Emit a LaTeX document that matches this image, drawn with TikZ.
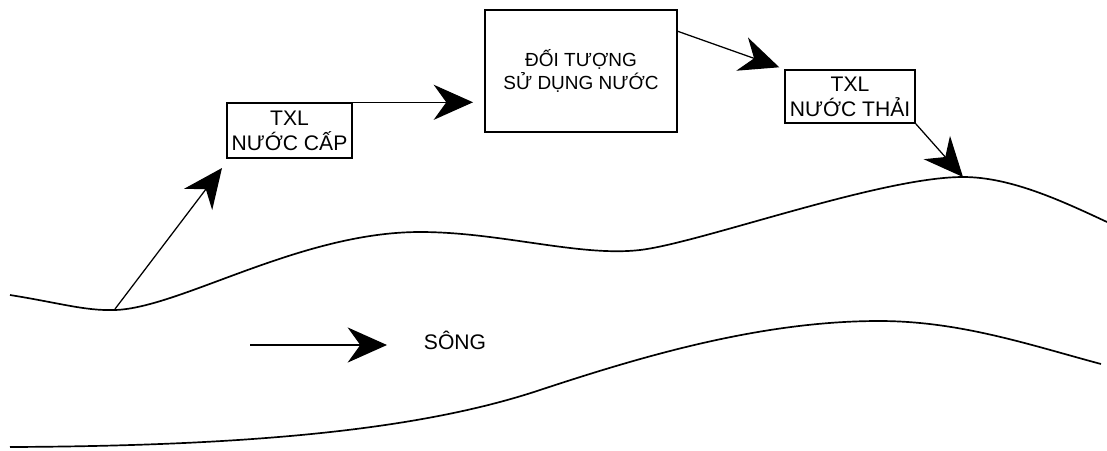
\documentclass[tikz,border=0pt]{standalone}
\usepackage{fontspec}
\setmainfont{Liberation Sans}
\usetikzlibrary{arrows.meta,calc}

\tikzset{
  box/.style={draw, line width=1pt, align=center, inner sep=0pt, font=\fontsize{15}{18}\selectfont},
  flow/.style={line width=0.9pt, -{Stealth[length=28pt,width=25pt,inset=9pt]}},
  bank/.style={line width=1.2pt}
}

\begin{document}
\begin{tikzpicture}[x=0.025cm, y=-0.025cm]
    \useasboundingbox (0,0) rectangle (1107,450);

    % Draw the two banks of the river
    \draw[bank] (10,295) .. controls (60,303) and (85,311) .. (115,310)
        .. controls (180,308) and (300,232) .. (420,232)
        .. controls (500,232) and (580,257) .. (640,250)
        .. controls (700,243) and (880,177) .. (963,177)
        .. controls (1010,177) and (1060,200) .. (1107,222);
    \draw[bank] (10,447) .. controls (250,446) and (420,430) .. (540,390)
        .. controls (640,357) and (760,321) .. (879,321)
        .. controls (960,321) and (1030,345) .. (1101,364);

    % Boxes
    \node[box, minimum width=3.125cm, minimum height=1.375cm] (cap) at (289.5,130.5) {TXL\\NƯỚC CẤP};
    \node[box, minimum width=4.8cm, minimum height=3.05cm, font=\fontsize{13.5}{16}\selectfont] (use) at (581,71) {ĐỐI TƯỢNG\\SỬ DỤNG NƯỚC};
    \node[box, minimum width=3.25cm, minimum height=1.325cm] (thai) at (850,96.5) {TXL\\NƯỚC THẢI};

    % Points on the river
    \coordinate (intake) at (115,309);
    \coordinate (capin) at (222,168);
    \coordinate (drop) at (963,177);
    \coordinate (flowA) at (250,345);
    \coordinate (flowB) at (387,345);

    % Flow of water
    \draw[flow] (intake) -- (capin);
    \draw[flow, shorten >=8] (cap.north east) -- (cap.north east -| use.west);
    \draw[flow] ($(use.north east)+(0,22)$) -- ($(thai.north west)+(-5,-2)$);
    \draw[flow] (thai.south east) -- (drop);

    % The river
    \draw[flow] (flowA) -- (flowB);
    \node[font=\fontsize{15}{18}\selectfont] (song) at (455,340) {SÔNG};

\end{tikzpicture}
\end{document}
